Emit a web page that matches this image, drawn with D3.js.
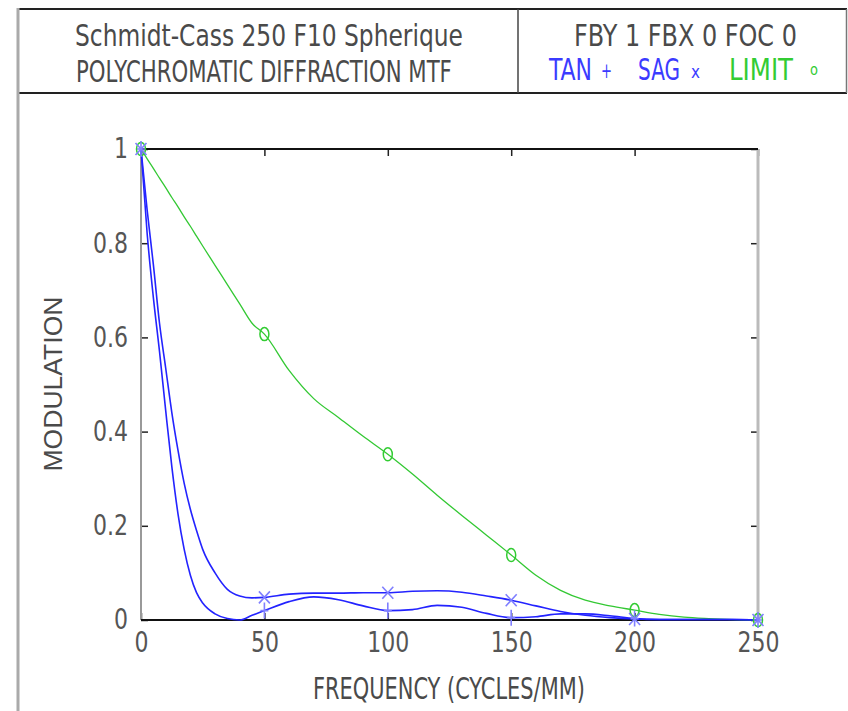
<!DOCTYPE html>
<html lang="en">
<head>
  <meta charset="UTF-8">
  <title>Polychromatic Diffraction MTF</title>
  <script src="https://d3js.org/d3.v7.min.js"></script>
  <style>
    body { margin: 0; background: #fff; }
    svg { display: block; }
    text { font-family: "Liberation Sans Narrow", "DejaVu Sans Condensed", "Liberation Sans", sans-serif; fill: #4a4a4a; }
  </style>
</head>
<body>
  <div id="chart"></div>
  <script>
    // spatial frequency (cycles/mm) at which the MTF was read
    const freqs = [0, 2.5, 5, 7.5, 10, 12.5, 15, 17.5, 20, 22.5, 25, 30, 35, 40, 45, 50,
      60, 70, 80, 90, 100, 110, 120, 130, 140, 150, 160, 170, 180, 190, 200,
      210, 220, 230, 240, 250]

    const tan = [1, 0.82, 0.685, 0.57, 0.445, 0.325, 0.225, 0.15, 0.095, 0.058, 0.036, 0.013, 0.003, 0, 0.01, 0.02,
      0.039, 0.049, 0.043, 0.03, 0.02, 0.022, 0.031, 0.027, 0.014, 0.005, 0.007, 0.013, 0.013, 0.009, 0.003,
      0.001, 0.001, 0.001, 0.001, 0]

    const sag = [1, 0.87, 0.755, 0.63, 0.535, 0.44, 0.36, 0.29, 0.235, 0.19, 0.15, 0.1, 0.065, 0.051, 0.047, 0.048,
      0.055, 0.057, 0.057, 0.058, 0.058, 0.061, 0.062, 0.059, 0.051, 0.042, 0.03, 0.018, 0.01, 0.005, 0.002,
      0.001, 0.001, 0.001, 0.001, 0]

    const limit = [1, 0.979, 0.959, 0.938, 0.918, 0.897, 0.877, 0.856, 0.836, 0.815, 0.794, 0.753, 0.712, 0.671, 0.63, 0.607,
      0.53, 0.47, 0.43, 0.39, 0.352, 0.31, 0.265, 0.222, 0.18, 0.138, 0.095, 0.063, 0.042, 0.03, 0.021,
      0.012, 0.006, 0.003, 0.001, 0]

    const xTicks = [0, 50, 100, 150, 200, 250]
    const yTicks = [0, 0.2, 0.4, 0.6, 0.8, 1]
    const yTickLabels = ['0', '0.2', '0.4', '0.6', '0.8', '1']

    const width = 848
    const height = 711

    const svg = d3.select('#chart').append('svg')
      .attr('width', width)
      .attr('height', height)

    // text squeezed horizontally to a given width (the original font is tall and narrow)
    function fitText(x, y, str, size, w) {
      const t = svg.append('text').attr('font-size', size).text(str)
      const natural = t.node().getComputedTextLength()
      t.attr('transform', `translate(${x},${y}) scale(${w / natural},1)`)
      return t
    }

    // header frame
    const frame = svg.append('g')
    frame.append('line').attr('x1', 18).attr('x2', 847).attr('y1', 9).attr('y2', 9)
      .attr('stroke', '#222').attr('stroke-width', 2)
    frame.append('line').attr('x1', 18).attr('x2', 847).attr('y1', 93).attr('y2', 93)
      .attr('stroke', '#222').attr('stroke-width', 2)
    frame.append('line').attr('x1', 18).attr('x2', 18).attr('y1', 8).attr('y2', height)
      .attr('stroke', '#aaa').attr('stroke-width', 3)
    frame.append('line').attr('x1', 518).attr('x2', 518).attr('y1', 9).attr('y2', 93)
      .attr('stroke', '#444').attr('stroke-width', 1.5)
    frame.append('line').attr('x1', 846.5).attr('x2', 846.5).attr('y1', 9).attr('y2', 93)
      .attr('stroke', '#777').attr('stroke-width', 1.5)

    fitText(75, 46, 'Schmidt-Cass 250 F10 Spherique', 30, 388)
    fitText(76, 82, 'POLYCHROMATIC DIFFRACTION MTF', 30, 376)
    fitText(574, 46, 'FBY 1 FBX 0 FOC 0', 30, 223)

    // legend row
    const legendRow = [
      { t: 'TAN', x: 549, y: 80, w: 43, c: '#3b3bff', fs: 30 },
      { t: '+', x: 601, y: 78, w: 11, c: '#3b3bff', fs: 22 },
      { t: 'SAG', x: 638, y: 80, w: 42, c: '#3b3bff', fs: 30 },
      { t: 'x', x: 691, y: 78, w: 9, c: '#3b3bff', fs: 18 },
      { t: 'LIMIT', x: 729, y: 80, w: 64, c: '#33cc33', fs: 30 },
      { t: 'o', x: 810, y: 75, w: 8, c: '#33cc33', fs: 15 }
    ]
    legendRow.forEach(d => {
      fitText(d.x, d.y, d.t, d.fs, d.w).style('fill', d.c)
    })

    // plot
    const x = d3.scaleLinear().domain([0, 250]).range([141, 758])
    const y = d3.scaleLinear().domain([0, 1]).range([620, 149])

    const charW = c => (c === '.' ? 7 : 14)
    const axisStyle = g => {
      g.select('.domain').remove()
      g.selectAll('.tick line').attr('stroke', '#222').attr('stroke-width', 1.5)
      g.selectAll('.tick text').attr('font-size', 28).style('fill', '#555')
        .attr('font-family', '"Liberation Sans Narrow", "DejaVu Sans Condensed", sans-serif')
        .attr('lengthAdjust', 'spacingAndGlyphs')
        .attr('textLength', function () {
          return d3.sum(this.textContent.split(''), charW)
        })
    }

    svg.append('g').attr('transform', 'translate(141,0)')
      .call(d3.axisLeft(y).tickValues(yTicks).tickSizeInner(-7).tickSizeOuter(0).tickPadding(13)
        .tickFormat((d, i) => yTickLabels[i]))
      .call(axisStyle)
    svg.append('g').attr('transform', 'translate(758,0)')
      .call(d3.axisRight(y).tickValues(yTicks).tickSizeInner(-7).tickSizeOuter(0).tickFormat(''))
      .call(axisStyle)
    svg.append('g').attr('transform', 'translate(0,620)')
      .call(d3.axisBottom(x).tickValues(xTicks).tickSizeInner(-7).tickSizeOuter(0).tickPadding(12))
      .call(axisStyle)
    svg.append('g').attr('transform', 'translate(0,149)')
      .call(d3.axisTop(x).tickValues(xTicks).tickSizeInner(-7).tickSizeOuter(0).tickFormat(''))
      .call(axisStyle)

    // plot borders
    svg.append('line').attr('x1', 141).attr('x2', 141).attr('y1', 149).attr('y2', 620)
      .attr('stroke', '#999').attr('stroke-width', 2)
    svg.append('line').attr('x1', 758).attr('x2', 758).attr('y1', 149).attr('y2', 620)
      .attr('stroke', '#bbb').attr('stroke-width', 3)
    svg.append('line').attr('x1', 141).attr('x2', 758).attr('y1', 149).attr('y2', 149)
      .attr('stroke', '#111').attr('stroke-width', 2)
    svg.append('line').attr('x1', 141).attr('x2', 758).attr('y1', 620).attr('y2', 620)
      .attr('stroke', '#111').attr('stroke-width', 2)

    fitText(313, 699, 'FREQUENCY (CYCLES/MM)', 30, 272)
    svg.append('text')
      .attr('transform', 'translate(62,384) rotate(-90)')
      .attr('font-size', 26).attr('text-anchor', 'middle')
      .attr('textLength', 175).attr('lengthAdjust', 'spacingAndGlyphs')
      .style('font-family', '"Liberation Sans", Arial, sans-serif')
      .text('MODULATION')

    const series = [
      { name: 'LIMIT', values: limit, line: '#33c833', mark: '#33cc33', w: 1.3 },
      { name: 'TAN', values: tan, line: '#2323ff', mark: '#7f7fff', w: 1.6 },
      { name: 'SAG', values: sag, line: '#2323ff', mark: '#7f7fff', w: 1.6 }
    ]

    const line = d3.line()
      .x((d, i) => x(freqs[i]))
      .y(d => y(d))
      .curve(d3.curveMonotoneX)

    svg.selectAll('.curve')
      .data(series)
      .enter().append('path')
      .attr('class', 'curve')
      .attr('d', d => line(d.values))
      .attr('fill', 'none')
      .attr('stroke', d => d.line)
      .attr('stroke-width', d => d.w)

    const markers = {
      TAN: 'M-4,0H4M0,-8V8',
      SAG: 'M-5.5,-6L5.5,6M-5.5,6L5.5,-6'
    }

    series.forEach(s => {
      const pts = freqs.map((f, i) => ({ f, v: s.values[i] })).filter(p => p.f % 50 === 0)
      const g = svg.append('g')
      if (s.name === 'LIMIT') {
        g.selectAll('ellipse').data(pts).enter().append('ellipse')
          .attr('cx', p => x(p.f)).attr('cy', p => y(p.v))
          .attr('rx', 4.5).attr('ry', 6.5)
          .attr('fill', 'none').attr('stroke', s.mark).attr('stroke-width', 1.5)
      } else {
        g.selectAll('path').data(pts).enter().append('path')
          .attr('transform', p => `translate(${x(p.f)},${y(p.v)})`)
          .attr('d', markers[s.name])
          .attr('fill', 'none').attr('stroke', s.mark).attr('stroke-width', 1.6)
      }
    })
  </script>
</body>
</html>
